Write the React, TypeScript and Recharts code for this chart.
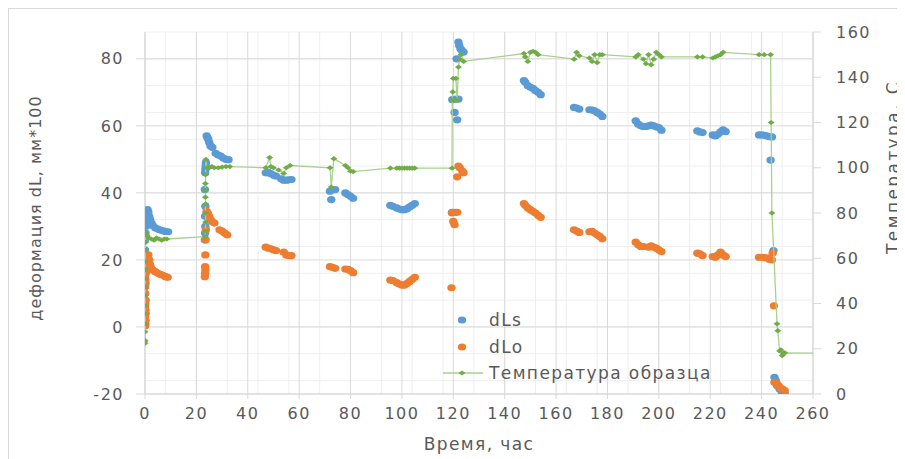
import React from "react"
import { ScatterChart, Scatter, XAxis, YAxis, CartesianGrid, Legend } from "recharts"

// time (h) / value pairs
const dLs: [number, number][] = [
  [0, 0.5], [0, 2], [0.2, 4], [0, 6], [0.1, 8], [0, 10], [0.2, 13], [0, 16], [0.1, 19], [0, 23], [0, 26], [0.2, 28],
  [0.3, 30], [0.4, 31], [0.5, 32], [0.6, 33], [0.8, 34], [1, 35], [1.3, 34.2], [1.6, 33], [2, 32], [2.5, 31], [3, 30.3],
  [4, 29.6], [5, 29.2], [6, 28.9], [7, 28.7], [8, 28.5], [9, 28.4],
  [23.3, 26], [23.4, 28], [23.5, 30], [23.4, 33], [23.5, 36], [23.3, 41], [23.4, 46], [23.5, 47], [23.6, 48], [23.7, 49],
  [24, 57], [24.3, 56.5], [24.6, 56], [25, 55], [25.5, 54], [26.2, 53.6], [27.5, 51.8], [28.5, 51.3], [29.5, 51],
  [30.5, 50.4], [31.5, 50], [32.5, 49.9],
  [47, 46], [47.8, 46.2], [48.8, 45.8], [50, 45.3], [51, 45], [53, 44.2], [54, 43.8], [55, 43.8], [56, 43.9], [57, 44],
  [72, 40.5], [73, 41], [74, 41], [72.5, 38], [78, 40], [79, 39.5], [80, 39], [81, 38.4],
  [95.5, 36.3], [96.5, 36], [98, 35.5], [99, 35.2], [100, 35], [101, 35], [102, 35.3], [103, 35.8], [104, 36.3], [105, 36.8],
  [119.5, 34.2], [119.6, 67.8], [121, 68], [122, 68], [120.5, 64], [121.5, 61.8], [121.3, 80], [122, 85], [122.3, 84],
  [122.8, 83], [123.3, 82.5], [124, 82],
  [147.5, 73.5], [148, 73], [149, 72], [150, 71.5], [151, 71.2], [152, 70.5], [153, 70], [154, 69.3],
  [167, 65.5], [168, 65.3], [169, 65], [173, 64.8], [174, 64.7], [175, 64.5], [176, 64], [177, 63.5], [178, 62.8],
  [191, 61.5], [192, 60.5], [193, 60], [194, 59.8], [195, 59.8], [196, 60], [197, 60.2], [198, 60], [199, 59.7], [200, 59.5], [201, 58.7],
  [215, 58.5], [216, 58.2], [217, 58], [221, 57.3], [222, 57], [223, 57.5], [224, 58.2], [225, 58.8], [226, 58.3],
  [239, 57.3], [240, 57.3], [241, 57.2], [242, 57], [243, 56.8], [244, 56.7], [243.5, 49.8], [244.6, 22.8],
  [245, -15], [245.5, -16], [246, -17.5], [247, -18.5], [248, -19.5], [249, -20],
]

const dLo: [number, number][] = [
  [0, 0.3], [0.1, 1], [0.2, 2], [0, 3], [0.1, 4], [0.2, 5], [0, 6], [0.1, 7], [0.2, 8], [0, 10], [0.1, 12], [0.2, 14], [0, 15],
  [0.3, 16], [0.4, 17], [0.5, 18], [0.6, 19], [0.8, 20], [1, 21], [1.3, 21.5], [1.6, 20], [2, 18.5], [2.5, 17.5], [3, 17],
  [4, 16.5], [5, 16], [6, 15.7], [7, 15.4], [8, 15], [8.8, 14.8],
  [23.3, 15], [23.4, 16], [23.5, 17], [23.4, 18], [23.5, 21.5], [23.6, 26], [23.7, 29], [24, 34.5], [24.5, 33.8], [25, 33],
  [25.5, 32], [26, 31.5], [27, 31], [29, 29], [30, 28.6], [31, 28], [32, 27.5],
  [47, 23.8], [48, 23.5], [49, 23.3], [50, 23], [51, 22.8], [54, 22.3], [55, 21.5], [56, 21.3], [57, 21.3],
  [72, 18], [73, 17.8], [74, 17.5], [78, 17.3], [79, 17.2], [80, 16.8], [81, 16.2],
  [95.5, 14], [96.5, 13.8], [98, 13.2], [99, 12.8], [100, 12.5], [101, 12.5], [102, 13], [103, 13.6], [104, 14.2], [105, 14.8],
  [119.3, 11.7], [119.5, 34], [120.5, 34.2], [121.5, 34.2], [120, 31.5], [120.5, 30.5], [122, 48], [122.5, 47.5],
  [123.5, 46.5], [124, 46], [121.5, 44.8],
  [147.5, 36.8], [148, 36.3], [149, 35.5], [150, 35], [151, 34.5], [152, 34], [153, 33.3], [154, 32.7],
  [167, 29], [168, 28.6], [169, 28.2], [173, 28.4], [174, 28.5], [175, 28], [176, 27.5], [177, 27], [178, 26.3],
  [191, 25.3], [192, 24.5], [193, 24], [194, 24], [196, 23.8], [197, 24.2], [198, 23.8], [199, 23.5], [200, 23], [201, 22.5],
  [215, 22], [216, 21.8], [217, 21.3], [221, 21], [222, 20.8], [223, 21.5], [224, 22.3], [225, 21.5], [226, 21],
  [239, 20.8], [240, 20.8], [241, 20.7], [242, 20.6], [243, 20.2], [244, 20], [244.3, 22], [244.8, 6.3],
  [245, -16.5], [246, -17], [246.5, -17.5], [247, -18], [248, -18.5], [249, -19],
]

const tempSample: [number, number][] = [
  [0, 22.4], [0.1, 23.5], [0, 27.5], [0.1, 31], [0, 35.5], [0.1, 39], [0, 43.5], [0.1, 47.5], [0, 51], [0.1, 55], [0, 58.5],
  [0.1, 63.5], [0.2, 67], [0.3, 71], [0.8, 70], [1.5, 69], [2.5, 68.5], [3.5, 68], [4.5, 69], [5.5, 68.5], [6.5, 68],
  [7.5, 68.5], [8.5, 68.5],
  [23.5, 69.5], [23.5, 72], [23.6, 76], [23.5, 80], [23.6, 84], [23.5, 87], [23.6, 90], [23.5, 93], [23.6, 97], [23.7, 103.7],
  [24, 100], [25, 100], [26, 100.5], [27, 100], [28.5, 100], [30, 100.3], [31.5, 100.5], [33, 100.5],
  [47, 100], [48.5, 104.5], [49, 100.5], [50, 100], [52, 99], [54, 97.5], [55, 100], [56.5, 101],
  [72, 100], [72.5, 91.5], [73.5, 104], [78, 101], [79, 100], [80, 98.5], [81, 98.3],
  [95.5, 99.8], [98, 99.8], [99, 99.8], [100, 99.8], [101, 99.8], [102, 99.8], [103, 99.8], [104, 99.8], [105, 99.8],
  [119.5, 99.8], [119.6, 130], [119.8, 133.5], [120, 139.5], [121, 139.5], [121.5, 130], [122, 144.5], [122.5, 148],
  [123, 150], [124, 147],
  [147.5, 150.5], [148, 149], [149, 147], [150, 151], [151, 151.5], [152, 151], [153, 150],
  [167, 148], [168, 151], [169, 149.5], [173, 148.5], [174, 147], [175, 150], [176, 146.5], [177, 150], [178, 150],
  [191, 149], [192, 150], [194, 148], [195, 146], [196, 150], [197, 145.5], [198, 148], [199, 151], [200, 150], [201, 149],
  [215, 149], [217, 149], [221, 148.5], [222, 149], [223, 149.5], [224, 150], [225, 151],
  [239, 150], [241, 150], [243.5, 150], [243.7, 120], [244, 80], [246, 31], [246.3, 28], [247, 19], [247.5, 19.5],
  [248, 17], [248.5, 18], [249, 18.2], [265, 18],
]

const seriesNames = ["dLs", "dLo", "Температура образца"]
const xTicks = [0, 20, 40, 60, 80, 100, 120, 140, 160, 180, 200, 220, 240, 260]
const leftTicks = [-20, 0, 20, 40, 60, 80]
const rightTicks = [0, 20, 40, 60, 80, 100, 120, 140, 160]
const minorX = Array.from({ length: 66 }, (_, i) => i * 4)
const minorY = Array.from({ length: 28 }, (_, i) => -20 + i * 4)

const toPts = (a: [number, number][]) => a.map(([t, v]) => ({ t, v }))

const FONT = "'DejaVu Sans', sans-serif"
const TXT = "#595959"
const tickStyle = { fontSize: 16, fill: TXT, letterSpacing: 1.5, fontFamily: FONT }

const Dot = (color: string) => (p: any) => <ellipse cx={p.cx} cy={p.cy} rx={4.2} ry={3.6} fill={color} />
const Diamond = (p: any) => (
  <polygon points={`${p.cx - 3.5},${p.cy} ${p.cx},${p.cy - 2.6} ${p.cx + 3.5},${p.cy} ${p.cx},${p.cy + 2.6}`} fill="#70AD47" />
)

const VTitle = ({ viewBox, text, dx, dy, size = 16, spacing = 1 }: any) => {
  const cx = viewBox.x + dx
  const cy = viewBox.y + viewBox.height / 2 + dy
  return (
    <text x={cx} y={cy} transform={`rotate(-90 ${cx} ${cy})`} textAnchor="middle" dominantBaseline="central"
      fill={TXT} fontSize={size} letterSpacing={spacing} fontFamily={FONT}>{text}</text>
  )
}
const XTitle = ({ viewBox }: any) => (
  <text x={viewBox.x + viewBox.width / 2} y={viewBox.y + 56} textAnchor="middle"
    fill={TXT} fontSize={17} letterSpacing={1.4} fontFamily={FONT}>Время, час</text>
)

const legendMarks: Record<string, string> = { dLs: "#5B9BD5", dLo: "#ED7D31" }

const LegendBox = (props: any) => {
  const items = [...props.payload].sort((a: any, b: any) => seriesNames.indexOf(a.value) - seriesNames.indexOf(b.value))
  return (
    <div style={{ fontFamily: FONT, fontSize: 17, letterSpacing: 1.4, color: TXT }}>
      {items.map((e: any) => (
        <div key={e.value} style={{ display: "flex", alignItems: "center", height: 26.5 }}>
          <svg width={50} height={26} style={{ display: "block" }}>
            {legendMarks[e.value] ? (
              <ellipse cx={23} cy={13} rx={4.2} ry={3.6} fill={legendMarks[e.value]} />
            ) : (
              <g>
                <line x1={4} y1={13} x2={44} y2={13} stroke="#A9D18E" strokeWidth={1.3} />
                <polygon points="19.5,13 23,10.4 26.5,13 23,15.6" fill="#70AD47" />
              </g>
            )}
          </svg>
          <span>{e.value}</span>
        </div>
      ))}
    </div>
  )
}

export default function App() {
  return (
    <div style={{ width: 897, height: 451, borderTop: "1px solid #d9d9d9", borderLeft: "1px solid #d9d9d9", boxSizing: "border-box", background: "#fff", overflow: "hidden" }}>
      <ScatterChart width={896} height={450} margin={{ top: 23, right: 0, bottom: 0, left: 0 }}>
        <CartesianGrid yAxisId="left" horizontalValues={minorY} verticalValues={minorX} stroke="#efefef" strokeWidth={1} />
        <CartesianGrid yAxisId="left" horizontalValues={leftTicks} verticalValues={xTicks} stroke="#d9d9d9" strokeWidth={1} />
        <XAxis type="number" dataKey="t" domain={[0, 260]} ticks={xTicks} allowDataOverflow height={65}
          stroke="#d9d9d9" tickSize={5} tickMargin={9} tick={tickStyle}
          label={<XTitle />} />
        <YAxis yAxisId="left" type="number" dataKey="v" domain={[-20, 88]} ticks={leftTicks} allowDataOverflow width={136}
          stroke="#d9d9d9" tickSize={9} tickMargin={12} tick={tickStyle}
          label={<VTitle text="деформация dL, мм*100" dx={26} dy={-5} />} />
        <YAxis yAxisId="right" orientation="right" type="number" dataKey="v" domain={[0, 160]} ticks={rightTicks} width={92}
          stroke="#d9d9d9" tickSize={8} tickMargin={15} tick={tickStyle}
          label={<VTitle text="Температура, С" dx={80} dy={-46} size={17} spacing={2.4} />} />
        <Legend layout="vertical" align="center" verticalAlign="middle" content={<LegendBox />}
          wrapperStyle={{ left: 430, top: 298, width: 320 }} />
        <Scatter name="dLs" data={toPts(dLs)} yAxisId="left" fill="#5B9BD5" shape={Dot("#5B9BD5")} isAnimationActive={false} />
        <Scatter name="dLo" data={toPts(dLo)} yAxisId="left" fill="#ED7D31" shape={Dot("#ED7D31")} isAnimationActive={false} />
        <Scatter name="Температура образца" data={toPts(tempSample)} yAxisId="right" fill="#70AD47"
          line={{ stroke: "#A9D18E", strokeWidth: 1.3 }} lineType="joint" shape={Diamond} isAnimationActive={false} />
      </ScatterChart>
    </div>
  )
}
